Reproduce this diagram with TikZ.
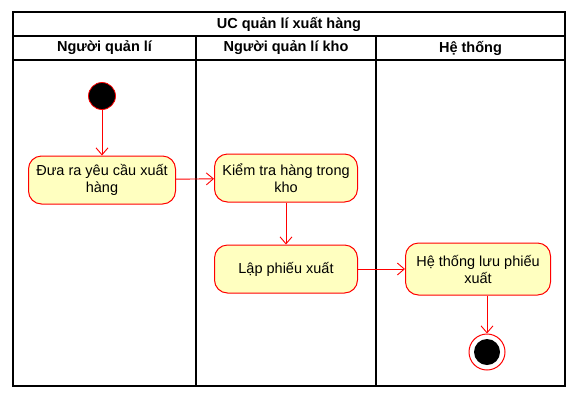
\documentclass[tikz,border=0pt]{standalone}
\usepackage{fontspec}
\setmainfont{Liberation Sans}
\usetikzlibrary{arrows.meta}
\definecolor{umlred}{HTML}{FF0000}
\definecolor{umlfill}{HTML}{FFFFC0}
\tikzset{actnode/.style={shape=rectangle, rounded corners=13pt, draw=umlred, fill=umlfill, line width=1pt, minimum width=145pt, minimum height=48pt, inner sep=2pt, align=center, font=\fontsize{14.5}{17}\selectfont}}
\tikzset{startnode/.style={shape=circle, fill=black, draw=umlred, line width=0.8pt, inner sep=0pt, minimum size=27pt}}
\tikzset{endouter/.style={shape=circle, fill=white, draw=umlred, line width=1pt, inner sep=0pt, minimum size=36pt}}
\tikzset{endinner/.style={shape=circle, fill=black, inner sep=0pt, minimum size=26pt}}
\tikzset{flow/.style={draw=umlred, line width=0.9pt, -{Straight Barb[length=7pt,width=12pt]}}}
\tikzset{headtext/.style={font=\bfseries\fontsize{14.5}{17}\selectfont}}
\begin{document}
\begin{tikzpicture}[x=1pt, y=-1pt]
\useasboundingbox (0,0) rectangle (577,402);
\draw[line width=1.2pt] (13,12) rectangle (565,386);
\draw[line width=1.2pt] (13,36) -- (565,36);
\draw[line width=1.2pt] (13,60) -- (565,60);
\draw[line width=1.2pt] (196,36) -- (196,386);
\draw[line width=1.2pt] (376,36) -- (376,386);
\node[headtext] (title) at (289,24) {UC quản lí xuất hàng};
\node[headtext] (lane1) at (104.5,48) {Người quản lí};
\node[headtext] (lane2) at (286,48) {Người quản lí kho};
\node[headtext] (lane3) at (470.5,48) {Hệ thống};

\node[startnode] (start) at (102,96) {};
\node[actnode, minimum width=147pt] (request) at (102,180) {Đưa ra yêu cầu xuất\\hàng};
\node[actnode, minimum width=143pt] (check) at (286,178) {Kiểm tra hàng trong\\kho};
\node[actnode, minimum width=143pt] (slip) at (286,269) {Lập phiếu xuất};
\node[actnode, minimum width=145pt, minimum height=52pt] (save) at (478,269) {Hệ thống lưu phiếu\\xuất};
\node[endouter] (end) at (487,352) {};
\node[endinner] (endcore) at (end) {};

\draw[flow] (start) -- (request);
\draw[flow] (request) -- (check);
\draw[flow] (check) -- (slip);
\draw[flow] (slip) -- (save);
\draw[flow] (save.south -| end) -- (end);
\end{tikzpicture}
\end{document}
